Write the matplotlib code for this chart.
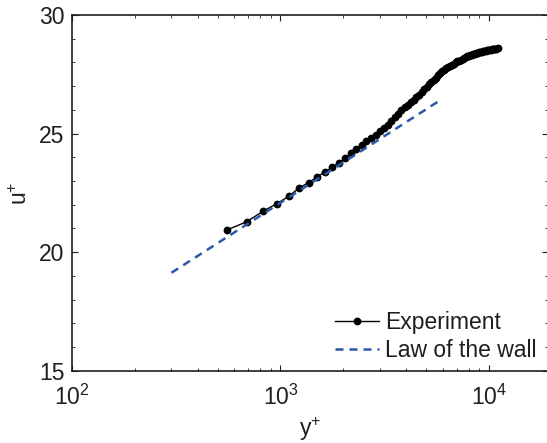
import numpy as np
import matplotlib
matplotlib.use('Agg')
import matplotlib.pyplot as plt
from matplotlib.ticker import MultipleLocator, LogLocator

# experiment: y+ and u+
y_exp = [552, 688, 823, 959, 1094, 1230, 1366, 1501, 1637, 1772,
         1908, 2044, 2179, 2315, 2450, 2586, 2722, 2857, 2993, 3128,
         3264, 3400, 3535, 3671, 3806, 3942, 4078, 4213, 4349, 4484,
         4620, 4756, 4891, 5027, 5162, 5298, 5434, 5569, 5705, 5840,
         5976, 6112, 6247, 6383, 6518, 6654, 6790, 6925, 7061, 7196,
         7332, 7468, 7603, 7739, 7874, 8010, 8146, 8281, 8417, 8552,
         8688, 8824, 8959, 9095, 9230, 9366, 9502, 9637, 9773, 9908,
         10044, 10180, 10315, 10451, 10586, 10722, 10858, 10993]
u_exp = [20.93, 21.28, 21.72, 22.04, 22.35, 22.71, 22.93, 23.18, 23.39, 23.58,
         23.76, 23.97, 24.17, 24.36, 24.53, 24.68, 24.83, 24.96, 25.11, 25.24,
         25.38, 25.53, 25.69, 25.84, 25.98, 26.10, 26.21, 26.33, 26.43, 26.54,
         26.64, 26.75, 26.86, 26.96, 27.07, 27.17, 27.27, 27.36, 27.45, 27.54,
         27.63, 27.70, 27.75, 27.80, 27.85, 27.90, 27.95, 28.00, 28.04, 28.07,
         28.11, 28.14, 28.18, 28.21, 28.25, 28.28, 28.31, 28.33, 28.35, 28.37,
         28.39, 28.41, 28.43, 28.44, 28.46, 28.48, 28.49, 28.50, 28.51, 28.52,
         28.53, 28.54, 28.55, 28.56, 28.56, 28.57, 28.58, 28.59]

# law of the wall (straight line in semilog)
y_law = [300, 5850]
u_law = [19.13, 26.41]

AXCOL = '#1e1e1e'
FS = 16.5

plt.rcParams['font.family'] = ['Liberation Sans', 'DejaVu Sans']
plt.rcParams['mathtext.fontset'] = 'custom'
plt.rcParams['mathtext.rm'] = 'Liberation Sans'
plt.rcParams['mathtext.it'] = 'Liberation Sans'

fig = plt.figure(figsize=(5.47, 4.43), dpi=100)
ax = fig.add_axes([72 / 547, 72.3 / 443, 476 / 547, 355.7 / 443])

ax.plot(y_exp, u_exp, '-', color='black', lw=1.0, marker='o', ms=4.6, label='Experiment')
ax.plot(y_law, u_law, '--', color='#2d57ad', lw=1.8, dashes=(3.2, 2.4), label='Law of the wall')

ax.set_xscale('log')
ax.set_xlim(100, 19200)
ax.set_ylim(15, 30)
ax.yaxis.set_major_locator(MultipleLocator(5))
ax.yaxis.set_minor_locator(MultipleLocator(1))
ax.xaxis.set_major_locator(LogLocator(base=10))
ax.xaxis.set_minor_locator(LogLocator(base=10, subs=np.arange(2, 10)))

for s in ax.spines.values():
    s.set_color(AXCOL)
    s.set_linewidth(1.2)
ax.tick_params(which='both', direction='in', top=True, right=True, colors=AXCOL,
               labelsize=FS, labelcolor=AXCOL)
ax.tick_params(which='major', length=4, width=0.8)
ax.tick_params(which='minor', length=2.5, width=0.6)
ax.tick_params(axis='y', pad=5.5)
ax.tick_params(axis='x', pad=10)

ax.set_xlabel(r'$\mathregular{y^{+}}$', fontsize=FS, color=AXCOL, labelpad=4)
ax.set_ylabel(r'$\mathregular{u^{+}}$', fontsize=FS, color=AXCOL, labelpad=5)

leg = ax.legend(loc='lower right', bbox_to_anchor=(0.996, 0.0), frameon=False, fontsize=FS,
                handlelength=1.9, handletextpad=0.3, labelspacing=0.2, borderaxespad=0.0)
for t in leg.get_texts():
    t.set_color(AXCOL)

fig.savefig('out.png', dpi=100)
